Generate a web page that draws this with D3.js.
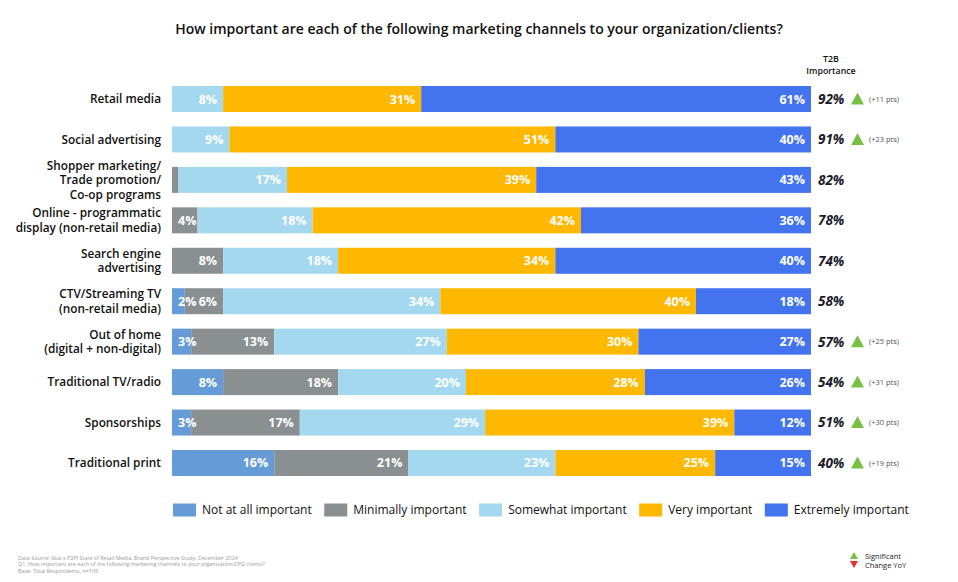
<!DOCTYPE html>
<html>
<head>
<meta charset="utf-8">
<script src="https://cdn.jsdelivr.net/npm/d3@7"></script>
<style>
  body { margin: 0; background: #fff; }
  svg { display: block; font-family: "Open Sans", sans-serif; }
</style>
</head>
<body>
<div id="chart"></div>
<script>
'use strict';

// data
var channels = [
  ["Retail media"],
  ["Social advertising"],
  ["Shopper marketing/", "Trade promotion/", "Co-op programs"],
  ["Online - programmatic", "display (non-retail media)"],
  ["Search engine", "advertising"],
  ["CTV/Streaming TV", "(non-retail media)"],
  ["Out of home", "(digital + non-digital)"],
  ["Traditional TV/radio"],
  ["Sponsorships"],
  ["Traditional print"]
];
var levels = ["Not at all important", "Minimally important", "Somewhat important", "Very important", "Extremely important"];
var notAtAll  = [0, 0, 0, 0, 0, 2, 3, 8, 3, 16];
var minimally = [0, 0, 1, 4, 8, 6, 13, 18, 17, 21];
var somewhat  = [8, 9, 17, 18, 18, 34, 27, 20, 29, 23];
var very      = [31, 51, 39, 42, 34, 40, 30, 28, 39, 25];
var extremely = [61, 40, 43, 36, 40, 18, 27, 26, 12, 15];
var t2b       = [92, 91, 82, 78, 74, 58, 57, 54, 51, 40];
var yoyChange = [11, 23, null, null, null, null, 25, 31, 30, 19];
var colors = ["#659cd7", "#8a9092", "#a4d8ef", "#ffb800", "#4473ef"];
var footnotes = [
  "Data Source: Skai x P2PI State of Retail Media, Brand Perspective Study, December 2024",
  "Q1.  How important are each of the following marketing channels to your organization/CPG clients?",
  "Base: Total Respondents, n=109"
];

var W = 958, H = 582;
var svg = d3.select("#chart").append("svg").attr("width", W).attr("height", H);

var rows = channels.map(function(c, i) {
  return { key: i, label: c, vals: [notAtAll[i], minimally[i], somewhat[i], very[i], extremely[i]] };
});

var x = d3.scaleLinear().domain([0, 100]).range([172, 811]);
var y = d3.scaleBand().domain(d3.range(channels.length)).range([78.8, 483.2])
  .paddingInner(0.357).paddingOuter(0.1785);

var stack = d3.stack().keys([0, 1, 2, 3, 4]).value(function(d, k) { return d.vals[k]; });
var series = stack(rows);

// title
svg.append("text")
  .attr("x", 479).attr("y", 34)
  .attr("text-anchor", "middle")
  .style("font-size", "14px").style("font-weight", 600).attr("fill", "#111")
  .text("How important are each of the following marketing channels to your organization/clients?");

// bars
var serie = svg.selectAll(".serie").data(series).enter().append("g")
  .attr("class", "serie")
  .attr("fill", function(d) { return colors[d.key]; });

serie.selectAll("rect").data(function(d) { return d; }).enter()
  .filter(function(d) { return d[1] - d[0] > 0; })
  .append("rect")
  .attr("x", function(d) { return x(d[0]); })
  .attr("y", function(d) { return y(d.data.key); })
  .attr("width", function(d) { return x(d[1]) - x(d[0]); })
  .attr("height", y.bandwidth());

// segment labels (drawn on top of all bars so small ones can spill over)
var segs = [];
series.forEach(function(s) { s.forEach(function(d) { segs.push(d); }); });
svg.append("g").attr("class", "seglabels").selectAll("text")
  .data(segs.filter(function(d) { return d[1] - d[0] >= 2; }))
  .enter().append("text")
  .attr("y", function(d) { return y(d.data.key) + y.bandwidth() / 2; })
  .attr("dy", "0.36em")
  .attr("fill", "#fff")
  .style("font-size", "12.5px").style("font-weight", 700)
  .each(function(d) {
    var w = x(d[1]) - x(d[0]);
    var t = d3.select(this).text((d[1] - d[0]) + "%");
    if (w < 26) {
      t.attr("x", x(d[0]) + 6).attr("text-anchor", "start");
    } else {
      t.attr("x", x(d[1]) - 6).attr("text-anchor", "end");
    }
  });

// category labels, one text per line
svg.append("g").selectAll("g").data(rows).enter().append("g")
  .each(function(d) {
    var n = d.label.length, lh = 14.5;
    var cy = y(d.key) + y.bandwidth() / 2;
    d3.select(this).selectAll("text").data(d.label).enter().append("text")
      .attr("x", 161)
      .attr("y", function(s, i) { return cy + (i - (n - 1) / 2) * lh; })
      .attr("dy", "0.35em")
      .attr("text-anchor", "end")
      .attr("fill", "#111")
      .style("font-size", "11.8px").style("font-weight", 600)
      .text(function(s) { return s; });
  });

// T2B column
svg.append("text").attr("x", 831).attr("y", 61.5).attr("text-anchor", "middle")
  .style("font-size", "8.8px").style("font-weight", 600).attr("fill", "#111").text("T2B");
svg.append("text").attr("x", 831).attr("y", 73.5).attr("text-anchor", "middle")
  .style("font-size", "8.8px").style("font-weight", 600).attr("fill", "#111").text("Importance");

var t2 = svg.append("g").selectAll("g").data(rows).enter().append("g")
  .attr("transform", function(d) { return "translate(0," + (y(d.key) + y.bandwidth() / 2) + ")"; });
t2.append("text")
  .attr("x", 818).attr("dy", "0.36em")
  .style("font-size", "13.5px").style("font-weight", 700).style("font-style", "italic")
  .attr("fill", "#1a1a2a")
  .text(function(d) { return t2b[d.key] + "%"; });
var sig = t2.filter(function(d) { return yoyChange[d.key] !== null; });
sig.append("path")
  .attr("d", "M851,5.5L857.5,-6.5L864,5.5Z")
  .attr("fill", "#77c043");
sig.append("text")
  .attr("x", 869).attr("dy", "0.35em")
  .style("font-size", "7.5px").attr("fill", "#555")
  .text(function(d) { return "(+" + yoyChange[d.key] + " pts)"; });

// legend
var lg = svg.append("g").attr("class", "legend");
var lx = 173;
levels.forEach(function(name, i) {
  lg.append("rect").attr("x", lx).attr("y", 503.5).attr("width", 23).attr("height", 13)
    .attr("fill", colors[i]);
  var t = lg.append("text").attr("x", lx + 29).attr("y", 510).attr("dy", "0.35em")
    .style("font-size", "12px").attr("fill", "#111").text(name);
  lx = lx + 29 + t.node().getComputedTextLength() + 12.5;
});

// significance key
svg.append("path").attr("d", "M850,559L854,552L858,559Z").attr("fill", "#77c043");
svg.append("path").attr("d", "M850,561L854,568L858,561Z").attr("fill", "#e8312f");
svg.append("text").attr("x", 865).attr("y", 559).style("font-size", "7.5px").attr("fill", "#222").text("Significant");
svg.append("text").attr("x", 865).attr("y", 567.5).style("font-size", "7.5px").attr("fill", "#222").text("Change YoY");

// footnotes
svg.append("g").selectAll("text").data(footnotes).enter().append("text")
  .attr("x", 18).attr("y", function(d, i) { return 560 + i * 6.3; })
  .style("font-size", "5.4px").attr("fill", "#9a9a9a")
  .text(function(d) { return d; });
</script>
</body>
</html>
